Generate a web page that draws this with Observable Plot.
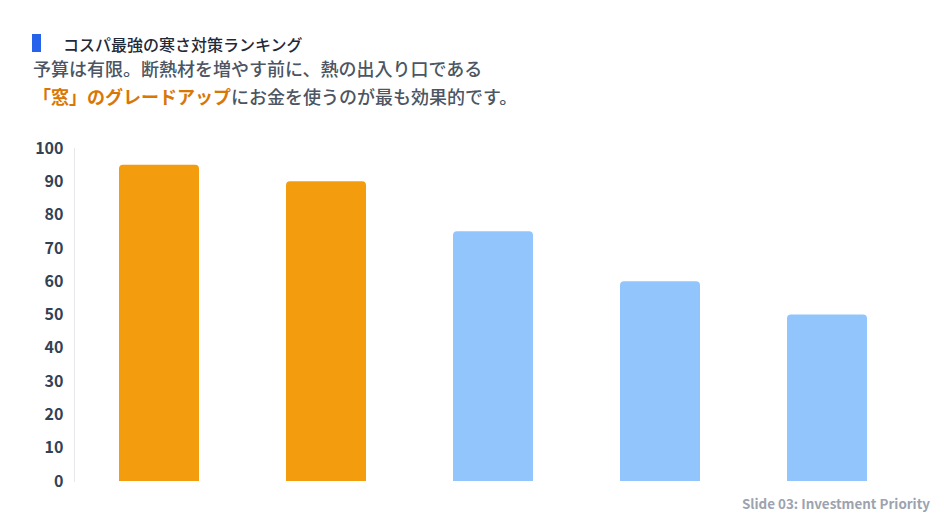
<!DOCTYPE html>
<html><head><meta charset="utf-8">
<script src="https://cdn.jsdelivr.net/npm/d3@7"></script>
<script src="https://cdn.jsdelivr.net/npm/@observablehq/plot@0.6"></script>
<style>
body{margin:0;background:#fff;font-family:"Noto Sans CJK JP","Noto Sans",sans-serif;width:944px;height:530px;position:relative;overflow:hidden}
#marker{position:absolute;left:32px;top:34px;width:9px;height:18px;background:#2563eb}
#title{position:absolute;left:63px;top:33px;font-size:16px;line-height:22px;color:#1f2937;font-weight:500}
#sub{position:absolute;left:33px;top:54px;font-size:18px;line-height:28px;color:#4b5563;font-weight:500}
#sub b{color:#d97706;font-weight:700}
#chart{position:absolute;left:0;top:130px}
#foot{position:absolute;right:14px;top:493px;font-size:13.4px;font-weight:700;color:#9ca3af;font-family:"Noto Sans CJK JP","Noto Sans",sans-serif}
</style></head><body>
<div id="marker"></div>
<div id="title">コスパ最強の寒さ対策ランキング</div>
<div id="sub">予算は有限。断熱材を増やす前に、熱の出入り口である<br><b>「窓」のグレードアップ</b>にお金を使うのが最も効果的です。</div>
<div id="chart"></div>
<div id="foot">Slide 03: Investment Priority</div>
<script>
const categories = ["1位","2位","3位","4位","5位"];
const values = [95, 90, 75, 60, 50];
const highlight = [true, true, false, false, false];
const yTicks = [0,10,20,30,40,50,60,70,80,90,100];

const data = categories.map((c,i)=>({cat:c, value:values[i], hi:highlight[i]}));

const chart = Plot.plot({
  width: 944,
  height: 370,
  marginLeft: 74,
  marginRight: 32,
  marginTop: 18,
  marginBottom: 19,
  style: {fontFamily: '"Noto Sans CJK JP","Noto Sans",sans-serif', fontSize: "16px", color: "#334155", background: "transparent"},
  x: {domain: categories, paddingInner: 0.52, paddingOuter: 0.26, axis: null},
  y: {domain: [0,100], ticks: yTicks, label: null},
  marks: [
    Plot.frame({anchor: "left", stroke: "#e5e7eb"}),
    Plot.axisY({ticks: yTicks, tickSize: 0, tickPadding: 11, label: null, fontWeight: 700, fill: "#334155"}),
    Plot.barY(data, {x: "cat", y: "value", fill: d => d.hi ? "#f39c0e" : "#93c5fd", rx1y1: 4, rx2y1: 4})
  ]
});
document.getElementById("chart").appendChild(chart);
</script>
</body></html>
